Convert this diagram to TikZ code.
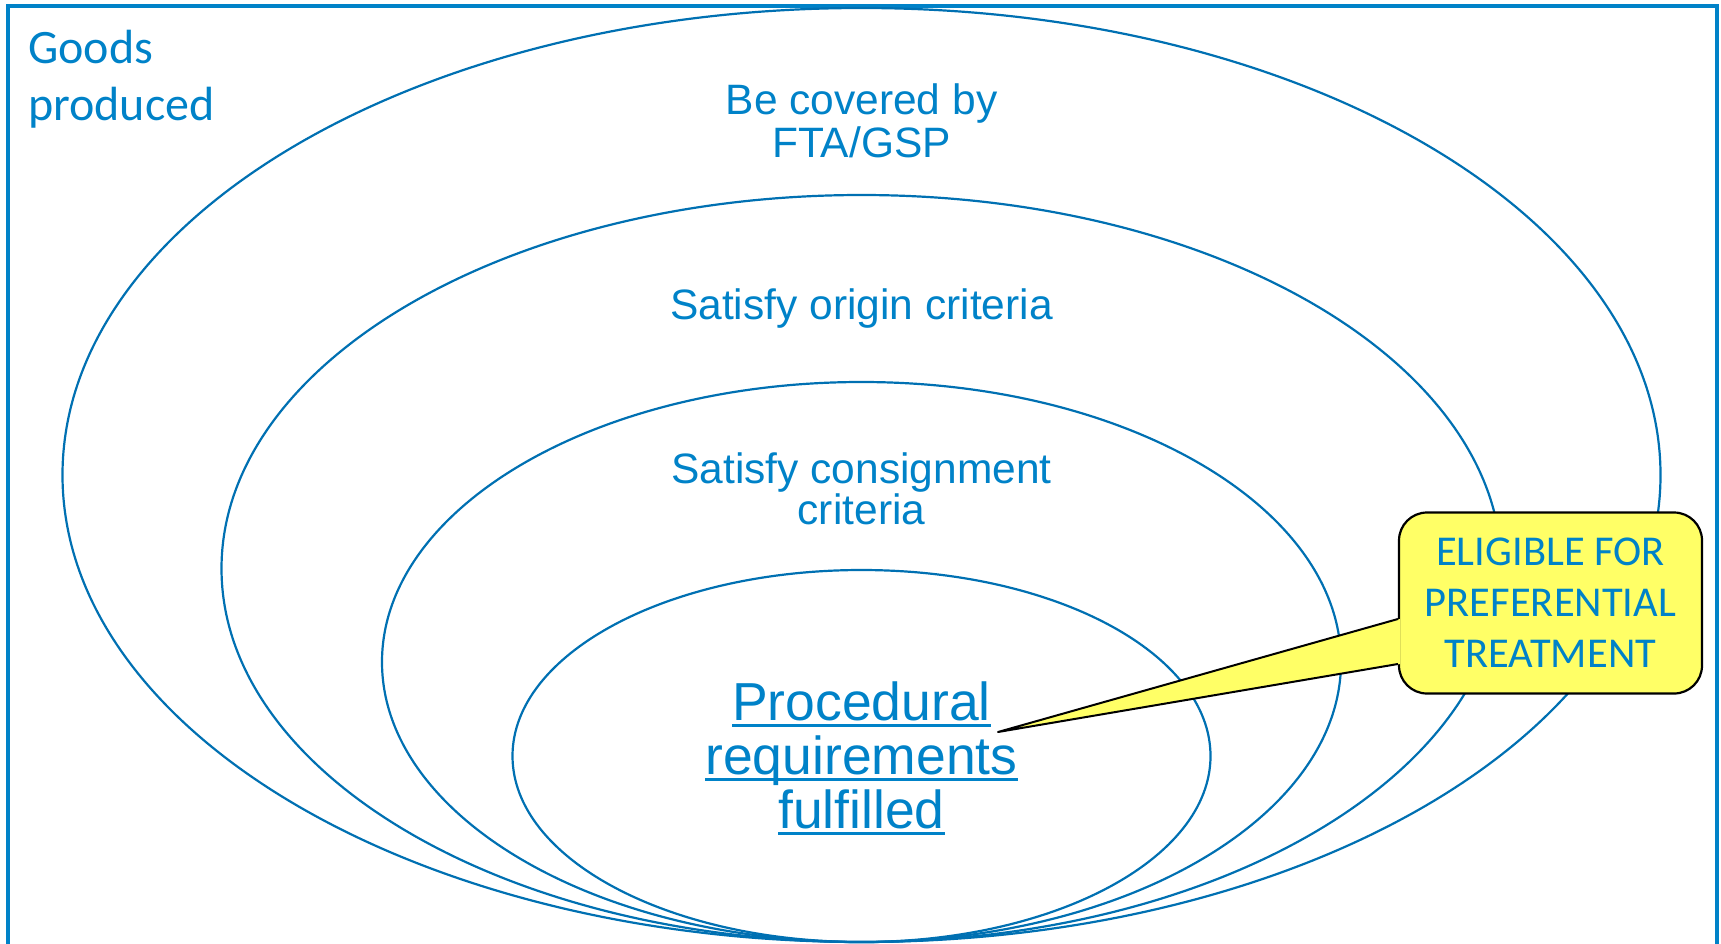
\documentclass[tikz,border=0pt]{standalone}
\usepackage{fontspec}
\newfontfamily\calibrifont{Carlito}
\newfontfamily\arialfont{Liberation Sans}
\definecolor{ringblue}{RGB}{0,112,178}
\definecolor{textblue}{RGB}{0,130,200}
\definecolor{calloutyellow}{RGB}{255,255,102}
\NewDocumentCommand\DrawRing{mmm}%
{%
\draw[ringblue,line width=2.2pt] (861.5,#1) ellipse [x radius=#2pt, y radius=#3pt];%
}
\NewDocumentCommand\UnderText{m}%
{%
\setbox0=\hbox{#1}\rlap{\rule[-7pt]{\wd0}{2.8pt}}\box0%
}

\begin{document}
\begin{tikzpicture}[x=1pt,y=-1pt]
\useasboundingbox (0,0) rectangle (1721,943);
\clip (0,0) rectangle (1721,943);
% frame, open at the bottom
\draw[textblue,line width=4pt] (7.5,950) |- (1716.5,5.5) -- (1716.5,950);
\DrawRing{475}{799}{467}
\DrawRing{568.5}{640}{373.5}
\DrawRing{662}{479.5}{280}
\DrawRing{756}{349}{186}
% base anchor = baseline of the last line
\node[anchor=base west,inner sep=0pt,text=textblue,align=left,font=\calibrifont\fontsize{48}{57}\selectfont] (goods) at (28,120) {Goods\\produced};
\node[anchor=base,inner sep=0pt,text=textblue,align=center,font=\arialfont\fontsize{42.5}{43}\selectfont] (fta) at (861.5,157) {Be covered by\\FTA/GSP};
\node[anchor=base,inner sep=0pt,text=textblue,font=\arialfont\fontsize{42.5}{43}\selectfont] (origin) at (861.5,319) {Satisfy origin criteria};
\node[anchor=base,inner sep=0pt,text=textblue,align=center,font=\arialfont\fontsize{42.5}{39}\selectfont] (consign) at (861.5,524) {Satisfy consignment\\criteria};
\node[anchor=base,inner sep=0pt,text=textblue,align=center,font=\arialfont\fontsize{53.5}{54}\selectfont] (proc) at (861.5,828) {\UnderText{Procedural}\\\UnderText{requirements}\\\UnderText{fulfilled}};
% callout
\node[draw=black,line width=2.2pt,fill=calloutyellow,rounded corners=28pt,minimum width=303pt,minimum height=181pt,text=textblue,align=center,font=\calibrifont\fontsize{42.5}{51}\selectfont] (elig) at (1550.5,603) {ELIGIBLE FOR\\PREFERENTIAL\\TREATMENT};
\coordinate (tip) at (998,732);
\fill[calloutyellow] ([yshift=-16pt,xshift=2pt]elig.west) -- (tip) -- ([yshift=-61pt,xshift=2pt]elig.west) -- cycle;
\draw[black,line width=2pt,line join=round] ([yshift=-16pt]elig.west) -- (tip) -- ([yshift=-61pt]elig.west);
\end{tikzpicture}
\end{document}
